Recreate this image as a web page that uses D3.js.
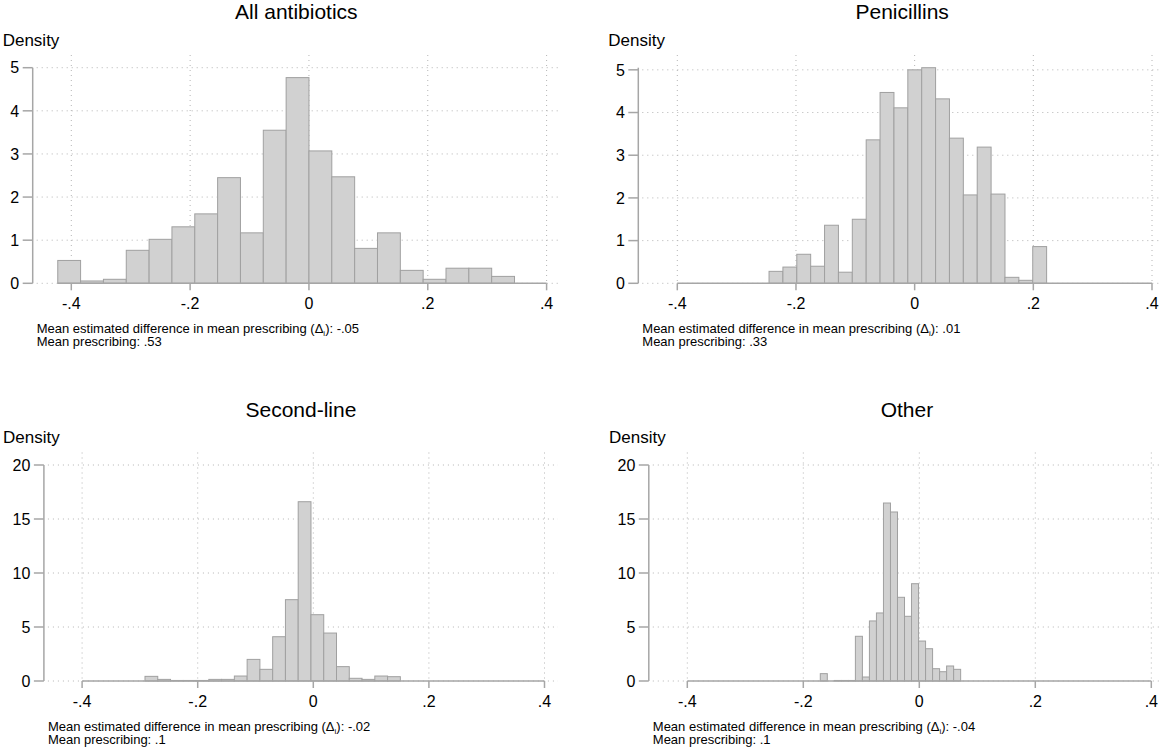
<!DOCTYPE html>
<html><head><meta charset="utf-8">
<script src="https://cdn.jsdelivr.net/npm/d3@7"></script>
<style>
body{margin:0;background:#fff}
svg{display:block;background:#fff}
text{font-family:"Liberation Sans",Arial,Helvetica,sans-serif;fill:#000}
</style>
</head><body>
<svg id="c" width="1159" height="749"></svg>
<script>
// ---------- data ----------
const panelTitles = ["All antibiotics", "Penicillins", "Second-line", "Other"];
const xTickValues = [-0.4, -0.2, 0, 0.2, 0.4];
const xTickLabels = ["-.4", "-.2", "0", ".2", ".4"];
const yTicksTop = [0, 1, 2, 3, 4, 5];
const yTicksBottom = [0, 5, 10, 15, 20];
const binStarts = [-0.4228, -0.2454, -0.2912, -0.1707];
const binWidths = [0.03844, 0.02339, 0.02209, 0.0121];
const allAntibioticsDensity = [0.53, 0.054, 0.093, 0.765, 1.02, 1.31, 1.61, 2.45, 1.17, 3.55, 4.77, 3.07, 2.47, 0.81, 1.17, 0.30, 0.093, 0.35, 0.35, 0.16];
const penicillinsDensity = [0.28, 0.38, 0.68, 0.40, 1.36, 0.26, 1.50, 3.36, 4.47, 4.11, 5.00, 5.05, 4.32, 3.40, 2.07, 3.19, 2.09, 0.14, 0.07, 0.86];
const secondLineDensity = [0.43, 0.15, 0.05, 0.05, 0.05, 0.15, 0.15, 0.46, 2.0, 1.08, 4.1, 7.53, 16.6, 6.14, 4.44, 1.33, 0.25, 0.15, 0.46, 0.40];
const otherDensity = [0.68, 0, 0.05, 0.05, 0.05, 4.14, 0.37, 5.56, 6.30, 16.48, 15.65, 7.75, 5.99, 9.01, 3.70, 2.99, 1.14, 0.86, 1.39, 1.08];
const meanDifference = ["-.05", ".01", "-.02", "-.04"];
const meanPrescribing = [".53", ".33", ".1", ".1"];

// ---------- layout ----------
const layout = [
  {axisX: 32.7, xL: 71.3, xR: 546.6, base: 283.3, top: 67.7, gridTop: 55, gridRight: 560, titleY: 19, densX: 2.7, densY: 45.7},
  {axisX: 638.3, xL: 677.3, xR: 1152, base: 283.3, top: 67.7, gridTop: 55, gridRight: 1166, titleY: 19, densX: 608.3, densY: 45.7},
  {axisX: 43.9, xL: 82.1, xR: 544.5, base: 681, top: 465, gridTop: 452.5, gridRight: 558, titleY: 416.7, densX: 3, densY: 443.4},
  {axisX: 648.8, xL: 687.3, xR: 1151.3, base: 681, top: 465, gridTop: 452.5, gridRight: 1165, titleY: 416.7, densX: 609, densY: 443.4}
];
const densities = [allAntibioticsDensity, penicillinsDensity, secondLineDensity, otherDensity];
const yTickSets = [yTicksTop, yTicksTop, yTicksBottom, yTicksBottom];

const svg = d3.select("#c");
const gridColor = "#b4b4b4", axisColor = "#a6a6a6";

layout.forEach((L, p) => {
  const g = svg.append("g");
  const vals = densities[p];
  const yTicks = yTickSets[p];
  const start = binStarts[p], w = binWidths[p];
  const bins = vals.map((v, i) => ({x0: start + i * w, x1: start + (i + 1) * w, v}));

  const x = d3.scaleLinear().domain([-0.4, 0.4]).range([L.xL, L.xR]);
  const tickMax = d3.max(yTicks);
  const yMax = Math.max(tickMax, d3.max(vals));
  const y = d3.scaleLinear().domain([0, yMax]).range([L.base, L.base - (L.base - L.top) * yMax / tickMax * (tickMax / yMax)]);
  // the plot region top corresponds to yMax
  y.range([L.base, L.top]);

  // gridlines (behind bars)
  g.selectAll(".hg").data(yTicks).join("line")
    .attr("x1", L.axisX + 4).attr("x2", L.gridRight)
    .attr("y1", d => y(d)).attr("y2", d => y(d))
    .attr("stroke", gridColor).attr("stroke-width", 1).attr("stroke-dasharray", "1,4");
  g.selectAll(".vg").data(xTickValues).join("line")
    .attr("x1", d => x(d)).attr("x2", d => x(d))
    .attr("y1", L.gridTop).attr("y2", L.base)
    .attr("stroke", gridColor).attr("stroke-width", 1).attr("stroke-dasharray", "1,4");

  // bars
  g.selectAll(".bar").data(bins).join("rect")
    .attr("x", d => x(d.x0)).attr("width", d => x(d.x1) - x(d.x0))
    .attr("y", d => y(d.v)).attr("height", d => y(0) - y(d.v))
    .attr("fill", "#d1d1d1").attr("stroke", "#a0a0a0").attr("stroke-width", 1);

  // x axis line across scale range
  const xMin = Math.min(-0.4, start), xMaxV = Math.max(0.4, start + vals.length * w);
  g.append("line").attr("x1", x(xMin)).attr("x2", x(xMaxV))
    .attr("y1", y(0)).attr("y2", y(0))
    .attr("stroke", axisColor).attr("stroke-width", 1.5);
  // x ticks
  g.selectAll(".xt").data(xTickValues).join("line")
    .attr("x1", d => x(d)).attr("x2", d => x(d))
    .attr("y1", y(0)).attr("y2", y(0) + 7)
    .attr("stroke", axisColor).attr("stroke-width", 1.5);
  g.selectAll(".xl").data(xTickValues).join("text")
    .attr("x", d => x(d)).attr("y", L.base + 25.7)
    .attr("text-anchor", "middle").attr("font-size", 16)
    .text((d, i) => xTickLabels[i]);

  // y axis
  g.append("line").attr("x1", L.axisX).attr("x2", L.axisX)
    .attr("y1", y(0)).attr("y2", y(yMax))
    .attr("stroke", axisColor).attr("stroke-width", 1.5);
  g.selectAll(".yt").data(yTicks).join("line")
    .attr("x1", L.axisX - 10).attr("x2", L.axisX)
    .attr("y1", d => y(d)).attr("y2", d => y(d))
    .attr("stroke", axisColor).attr("stroke-width", 1.5);
  g.selectAll(".yl").data(yTicks).join("text")
    .attr("x", L.axisX - 13.5).attr("y", d => y(d)).attr("dy", "0.36em")
    .attr("text-anchor", "end").attr("font-size", 16)
    .text(d => d);

  // titles
  g.append("text").attr("x", (L.axisX + L.gridRight) / 2).attr("y", L.titleY)
    .attr("text-anchor", "middle").attr("font-size", 21).text(panelTitles[p]);
  g.append("text").attr("x", L.densX).attr("y", L.densY)
    .attr("font-size", 17).text("Density");

  // notes
  const n1 = g.append("text").attr("x", L.axisX + 4).attr("y", L.base + 50).attr("font-size", 13);
  n1.append("tspan").text("Mean estimated difference in mean prescribing (\u0394");
  n1.append("tspan").attr("font-size", 8).attr("dy", 2.5).text("i");
  n1.append("tspan").attr("dy", -2.5).text("): " + meanDifference[p]);
  g.append("text").attr("x", L.axisX + 4).attr("y", L.base + 62.7).attr("font-size", 13)
    .text("Mean prescribing: " + meanPrescribing[p]);
});
</script>
</body></html>
